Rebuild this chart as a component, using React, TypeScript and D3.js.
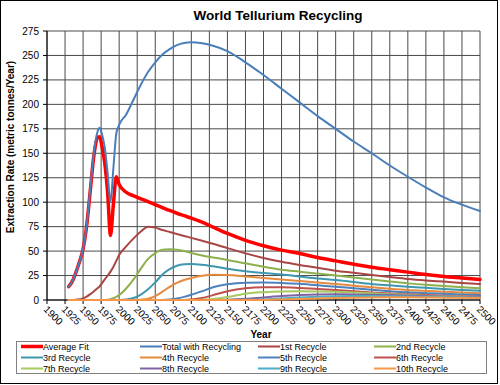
import React from "react";
import * as d3 from "d3";

const YEARS = [1930,1935,1940,1945,1950,1955,1960,1965,1970,1973,1976,1980,1984,1988,1992,1996,2000,2010,2020,2030,2040,2050,2060,2070,2080,2090,2100,2115,2130,2150,2175,2200,2225,2250,2275,2300,2325,2350,2375,2400,2425,2450,2475,2500];

const AVERAGE_FIT = [13.6,19,28,39,52,76,112,148,166,167,158,140,110,66,98,126,118,110,106.5,103.5,100.5,97.5,94.5,91.5,88.7,86.2,83.7,79.5,74.5,68,61,55.5,51,47.5,43.5,40,36.5,33.5,31,28.5,26,24,22.5,21];
const TOTAL = [13.6,19,28,39,52,76,114,151,172,176,170,156,130,100,135,170,179,190,205,220,233,243,251,256.5,260.5,262.8,263.5,262.5,260,254.5,243,230,216,202,188,175,162,150,137.5,126,115,105,97.5,91];
const R1 = [0,0,0.3,0.8,1.7,3.5,6,9,12,14,17,21,25,29,34,40,46,55,63,70,75,74,71.5,69.5,67.5,65.5,63.5,60.5,57.5,53,47.7,43,39,35.8,33,30,27.8,25.6,23.5,21.5,20,18.8,17.5,16.4];
const R2 = [0,0,0,0,0,0,0,0,0,0,0,0,0.3,0.8,1.8,3.2,5,12,21,32,42,48,51.5,52,51.5,50,48,45.5,43.5,41,37.5,34,31,29,27,25,23,21,19,17,15.5,14.3,13,12];
const R3 = [0,0,0,0,0,0,0,0,0,0,0,0,0,0,0,0,0,0.5,2,5.5,11,18,26,31.5,35,36.5,36.8,36,34.5,32,29.5,27.5,26,24,22,20.4,18.4,16.4,15,13.6,12.4,11.2,10.3,9.5];
const R4 = [0,0,0,0,0,0,0,0,0,0,0,0,0,0,0,0,0,0,0,0.3,1.2,4,8.5,13.5,17.5,20.5,22.5,24.8,25.7,25.5,24,22.5,21,19.5,18,16.4,14.6,13,11.5,10.2,9.3,8.5,7.6,6.8];
const R5 = [0,0,0,0,0,0,0,0,0,0,0,0,0,0,0,0,0,0,0,0,0,0,0,0.5,1.5,3.2,5.3,9,13,16,17.7,18,17.5,16.5,15,13.6,12,10.5,9,7.8,7,6.3,5.6,5];
const R6 = [0,0,0,0,0,0,0,0,0,0,0,0,0,0,0,0,0,0,0,0,0,0,0,0,0,0,0.5,2,5,9,12,13,13,12.3,11.3,10.2,9,7.7,6.7,5.8,5,4.3,3.8,3.4];
const R7 = [0,0,0,0,0,0,0,0,0,0,0,0,0,0,0,0,0,0,0,0,0,0,0,0,0,0,0,0.2,1,3,6.5,8,8.8,9,8.8,8.4,7.7,6.9,6,5.2,4.4,3.8,3.3,2.8];
const R8 = [0,0,0,0,0,0,0,0,0,0,0,0,0,0,0,0,0,0,0,0,0,0,0,0,0,0,0,0,0,0.3,1.2,2.6,4,5,5.6,5.8,5.7,5.4,5,4.5,4,3.5,3.1,2.7];
const R9 = [0,0,0,0,0,0,0,0,0,0,0,0,0,0,0,0,0,0,0,0,0,0,0,0,0,0,0,0,0,0,0.2,0.6,1.5,2.5,3.3,3.8,4,4,3.9,3.6,3.3,3,2.7,2.4];
const R10 = [0,0,0,0,0,0,0,0,0,0,0,0,0,0,0,0,0,0,0,0,0,0,0,0,0,0,0,0,0,0,0,0.1,0.4,0.9,1.5,2,2.4,2.6,2.7,2.7,2.6,2.4,2.2,2];

const SERIES_NAMES = ["Average Fit","Total with Recycling","1st Recycle","2nd Recycle","3rd Recycle","4th Recycle","5th Recycle","6th Recycle","7th Recycle","8th Recycle","9th Recycle","10th Recycle"];
const SERIES_VALUES = [AVERAGE_FIT, TOTAL, R1, R2, R3, R4, R5, R6, R7, R8, R9, R10];
const COLORS = ["#FF0000","#4A7EBB","#A94543","#8DB04C","#3D97AD","#E58A3E","#4F81BD","#C0504D","#A8C95E","#8064A2","#4BACC6","#F79646"];
const WIDTHS = [3.5,2,2,2,2,2,2,2,2,2,2,2];

const X_TICKS = d3.range(1900, 2501, 25);
const Y_TICKS = d3.range(0, 276, 25);

export default function App() {
  const W = 500, H = 385;
  const x = d3.scaleLinear().domain([1900, 2500]).range([47, 480]);
  const y = d3.scaleLinear().domain([0, 275]).range([300, 31]);
  const line = d3.line<[number, number]>()
    .x(d => x(d[0]))
    .y(d => y(d[1]))
    .curve(d3.curveMonotoneX);
  const font = "Liberation Sans, Arial, sans-serif";

  const legendCols = [21, 140, 258, 374];
  const legendRows = [346.5, 357.5, 368.5];

  return (
    <svg width={W} height={H} style={{ position: "absolute", left: 0, top: 0, background: "#fff" }} fontFamily={font}>
      <rect x={0.5} y={0.5} width={497} height={383} fill="#fff" stroke="#000" strokeWidth={1} />
      <text x={278} y={20} textAnchor="middle" fontSize={13.5} fontWeight="bold">World Tellurium Recycling</text>
      {/* grid */}
      {X_TICKS.map(t => (
        <line key={"gx" + t} x1={x(t)} x2={x(t)} y1={y(275)} y2={y(0)} stroke="#4a4a4a" strokeWidth={1} />
      ))}
      {Y_TICKS.map(t => (
        <line key={"gy" + t} x1={x(1900)} x2={x(2500)} y1={y(t)} y2={y(t)} stroke="#4a4a4a" strokeWidth={1} />
      ))}
      {/* axes */}
      <line x1={x(1900)} x2={x(1900)} y1={y(275)} y2={y(0)} stroke="#000" />
      <line x1={x(1900)} x2={x(2500)} y1={y(0)} y2={y(0)} stroke="#000" />
      {Y_TICKS.map(t => (
        <g key={"yt" + t}>
          <line x1={x(1900) - 4} x2={x(1900)} y1={y(t)} y2={y(t)} stroke="#000" />
          <text x={39} y={y(t)} dy="0.35em" textAnchor="end" fontSize={10}>{t}</text>
        </g>
      ))}
      {X_TICKS.map(t => (
        <g key={"xt" + t}>
          <line x1={x(t)} x2={x(t)} y1={y(0)} y2={y(0) + 4} stroke="#000" />
          <text transform={`translate(${x(t) - 4},${310}) rotate(45)`} fontSize={10}>{t}</text>
        </g>
      ))}
      {/* series */}
      {SERIES_VALUES.map((vals, i) => (
        <path key={"s" + i}
          d={line(YEARS.map((yr, j) => [yr, vals[j]] as [number, number])) || ""}
          fill="none" stroke={COLORS[i]} strokeWidth={WIDTHS[i]} strokeLinejoin="round" strokeLinecap="round" />
      ))}
      {/* axis titles */}
      <text transform={`translate(14,147) rotate(-90)`} textAnchor="middle" fontSize={10} fontWeight="bold">Extraction Rate  (metric tonnes/Year)</text>
      <text x={261} y={338} textAnchor="middle" fontSize={10} fontWeight="bold">Year</text>
      {/* legend */}
      <rect x={16.5} y={341.5} width={470} height={32} fill="#fff" stroke="#808080" />
      {SERIES_NAMES.map((name, i) => {
        const cx = legendCols[i % 4];
        const cy = legendRows[Math.floor(i / 4)];
        return (
          <g key={"lg" + i}>
            <line x1={cx} x2={cx + 22} y1={cy} y2={cy} stroke={COLORS[i]} strokeWidth={WIDTHS[i]} />
            <text x={cx + 22} y={cy} dy="0.35em" fontSize={9}>{name}</text>
          </g>
        );
      })}
    </svg>
  );
}
